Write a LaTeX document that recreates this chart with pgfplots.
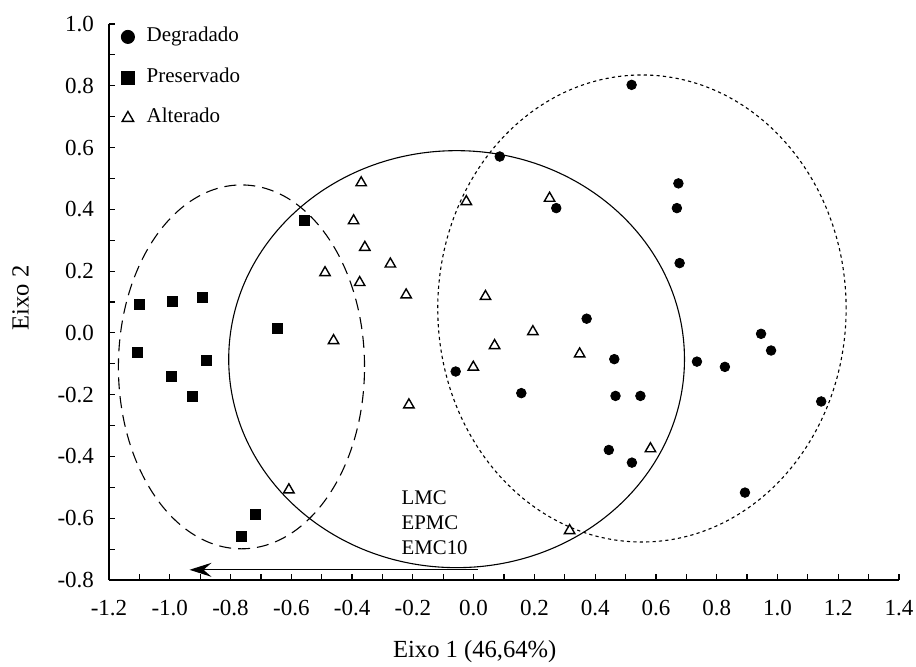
\documentclass[border=0pt]{standalone}
\usepackage{pgfplots}
\pgfplotsset{compat=1.18}
\usepackage{fontspec}
\setmainfont{Liberation Serif}
\usetikzlibrary{arrows.meta}

\pgfplotstableread{
x y
0.520 0.803
0.086 0.571
0.272 0.404
0.674 0.484
0.669 0.404
0.678 0.226
0.372 0.046
0.946 -0.003
0.979 -0.057
0.463 -0.085
-0.059 -0.125
0.157 -0.195
0.467 -0.204
0.549 -0.204
0.735 -0.093
0.827 -0.110
1.144 -0.222
0.445 -0.379
0.521 -0.420
0.893 -0.517
}\degradado

\pgfplotstableread{
x y
-0.556 0.363
-1.099 0.091
-0.992 0.101
-0.892 0.115
-0.647 0.013
-1.107 -0.064
-0.880 -0.090
-0.995 -0.141
-0.924 -0.204
-0.717 -0.586
-0.763 -0.659
}\preservado

\pgfplotstableread{
x y
-0.370 0.486
-0.395 0.363
-0.358 0.277
-0.274 0.223
-0.489 0.195
-0.375 0.163
-0.222 0.123
-0.461 -0.025
-0.213 -0.233
-0.608 -0.508
-0.024 0.425
0.250 0.436
0.039 0.118
0.195 0.004
0.069 -0.041
0.349 -0.068
-0.001 -0.111
0.582 -0.375
0.316 -0.640
}\alterado

\begin{document}
\begin{tikzpicture}
\begin{axis}[
  scale only axis, width=395pt, height=278pt,
  xmin=-1.2, xmax=1.4, ymin=-0.8, ymax=1.0,
  axis x line*=bottom, axis y line*=left,
  xtick={-1.2,-1,-0.8,-0.6,-0.4,-0.2,0,0.2,0.4,0.6,0.8,1,1.2,1.4},
  ytick={-0.8,-0.6,-0.4,-0.2,0,0.2,0.4,0.6,0.8,1},
  minor x tick num=1, minor y tick num=1,
  tick align=inside,
  major tick length=2.8pt, minor tick length=2.8pt,
  every tick/.style={black, line width=0.6pt},
  axis line style={line width=0.6pt, black},
  /pgf/number format/.cd, fixed, fixed zerofill, precision=1, assume math mode=true,
  /pgfplots/.cd,
  ticklabel style={font=\fontsize{11.5}{13}\selectfont},
  xticklabel style={yshift=-6.5pt},
  yticklabel style={xshift=-4pt},
  xlabel={Eixo 1 (46,64\%)}, ylabel={Eixo 2},
  label style={font=\fontsize{12.3}{15}\selectfont},
  xlabel style={at={(axis description cs:0.463,-0.1295)}, anchor=center},
  ylabel style={at={(axis description cs:-0.112,0.507)}, anchor=center, rotate=0},
  legend cell align=left,
  legend style={draw=none, fill=none, at={(axis description cs:0.0,1.0)}, anchor=north west,
    xshift=0pt, yshift=2.5pt,
    font=\fontsize{10.5}{12}\selectfont, row sep=6.8pt,
    nodes={text height=7pt, text depth=2.5pt}},
  legend image code/.code={\path[draw=none,fill=none] (0cm,-2pt) rectangle (0.48cm,2pt); \draw[#1,mark size=3.3pt] plot coordinates {(0.22cm,0cm)};},
]
\addplot[only marks, mark=*, mark size=2.4pt, black] table {\degradado};
\addlegendentry{Degradado}
\addplot[only marks, mark=square*, mark size=2.5pt, black] table {\preservado};
\addlegendentry{Preservado}
\addplot[only marks, mark=triangle, mark size=3pt, black, mark options={line width=0.7pt, fill=white}] table {\alterado};
\addlegendentry{Alterado}

\draw[black, line width=0.55pt] (axis cs:-0.056,-0.085) ellipse [x radius=0.750, y radius=0.675];
\draw[black, line width=0.55pt, dash pattern=on 6pt off 3.5pt] (axis cs:-0.764,-0.110) ellipse [x radius=0.405, y radius=0.589];
\draw[black, line width=0.55pt, dash pattern=on 1.6pt off 1.6pt] (axis cs:0.554,0.079) ellipse [x radius=0.672, y radius=0.756];

\draw[black, line width=0.6pt, -{Stealth[length=11pt,width=7pt,inset=4pt]}] (axis cs:0.013,-0.767) -- (axis cs:-0.935,-0.767);

\node[anchor=base west, inner sep=0pt, font=\fontsize{10.4}{12}\selectfont] at (axis cs:-0.238,-0.557) {LMC};
\node[anchor=base west, inner sep=0pt, font=\fontsize{10.4}{12}\selectfont] at (axis cs:-0.238,-0.638) {EPMC};
\node[anchor=base west, inner sep=0pt, font=\fontsize{10.4}{12}\selectfont] at (axis cs:-0.238,-0.718) {EMC10};
\end{axis}
\pgfresetboundingbox
\path (current axis.south west) ++(-54.5pt,-43pt) rectangle ++(458pt,333pt);
\end{tikzpicture}
\end{document}
